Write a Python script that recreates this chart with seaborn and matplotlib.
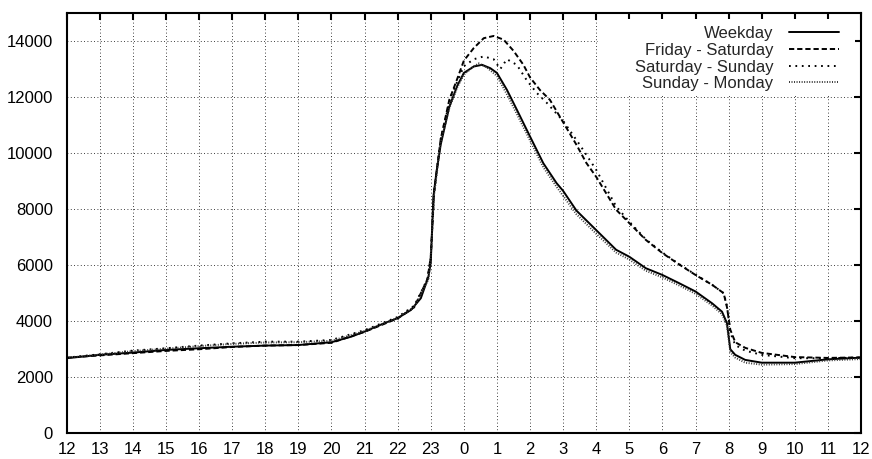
import pandas as pd
import matplotlib.pyplot as plt
import seaborn as sns
from matplotlib.patches import Rectangle

# hours as a continuous clock from 12 (noon) to 36 (noon next day)
hours_weekday = [12, 13, 14, 15, 16, 17, 18, 19, 20, 20.6, 21, 21.6, 22, 22.4, 22.7, 22.93,
                 23.0, 23.08, 23.17, 23.3, 23.56, 23.8, 24.0, 24.3, 24.55, 24.8, 25.0, 25.3,
                 25.6, 26.0, 26.4, 26.8, 27.0, 27.4, 28.0, 28.6, 29.0, 29.5, 30.0, 30.5, 31.0,
                 31.5, 31.8, 31.95, 32.05, 32.2, 32.5, 33, 34, 35, 36]
weekday = [2680, 2800, 2880, 2975, 3035, 3090, 3130, 3150, 3250, 3450, 3630, 3930, 4110, 4400,
           4820, 5590, 6100, 8450, 9300, 10300, 11650, 12400, 12860, 13090, 13150, 13030, 12860,
           12260, 11550, 10590, 9640, 8930, 8650, 7950, 7250, 6550, 6300, 5890, 5650, 5360,
           5060, 4640, 4340, 3930, 3000, 2800, 2620, 2520, 2520, 2640, 2700]

hours_fri_sat = [12, 13, 14, 15, 16, 17, 18, 19, 20, 21, 22, 22.5, 22.9, 23.0, 23.1, 23.3, 23.56,
                 23.8, 24.0, 24.3, 24.6, 24.9, 25.2, 25.5, 25.8, 26.0, 26.3, 26.6, 27.0, 27.4,
                 27.7, 28.0, 28.6, 29.0, 29.5, 30.0, 30.5, 31.0, 31.5, 31.85, 31.95, 32.05, 32.2,
                 32.5, 33, 34, 35, 36]
fri_sat = [2700, 2780, 2860, 2940, 3000, 3080, 3130, 3150, 3230, 3620, 4100, 4500, 5500, 6300,
           8600, 10500, 11900, 12650, 13300, 13750, 14100, 14180, 14050, 13650, 13150, 12700,
           12250, 11900, 11100, 10300, 9650, 9150, 7980, 7500, 6900, 6430, 6030, 5650, 5300,
           5000, 4500, 3700, 3250, 3050, 2870, 2720, 2690, 2710]

hours_sat_sun = [12, 13, 14, 15, 16, 17, 18, 19, 20, 21, 22, 22.5, 22.9, 23.0, 23.1, 23.3, 23.6,
                 24.0, 24.3, 24.6, 24.9, 25.1, 25.3, 25.6, 25.9, 26.2, 26.5, 27.0, 27.5, 28.0,
                 28.6, 29.0, 29.5, 30.0, 30.5, 31.0, 31.5, 31.85, 31.95, 32.05, 32.2, 32.5, 33,
                 34, 35, 36]
sat_sun = [2700, 2820, 2950, 3035, 3130, 3210, 3270, 3270, 3330, 3680, 4150, 4550, 5500, 6300,
           8600, 10500, 12000, 13100, 13350, 13450, 13350, 13000, 13350, 13150, 12600, 12150,
           11800, 11150, 10300, 9400, 8100, 7550, 6920, 6450, 6040, 5660, 5300, 5000, 4550,
           3600, 3150, 2950, 2800, 2680, 2680, 2700]

hours_sun_mon = [12, 13, 14, 15, 16, 17, 18, 19, 20, 21, 22, 22.5, 22.93, 23.0, 23.1, 23.3,
                 23.56, 23.8, 24.0, 24.3, 24.45, 24.7, 25.0, 25.3, 25.6, 26.0, 26.4, 26.8, 27.4,
                 28.0, 28.6, 29.0, 29.5, 30.0, 30.5, 31.0, 31.5, 31.8, 31.95, 32.05, 32.2, 32.5,
                 33, 34, 35, 36]
sun_mon = [2690, 2810, 2930, 3020, 3110, 3190, 3240, 3250, 3300, 3650, 4120, 4500, 5500, 6300,
           8500, 10400, 11600, 12350, 12800, 13100, 13200, 13050, 12750, 12100, 11400, 10450,
           9500, 8800, 7820, 7120, 6450, 6200, 5800, 5560, 5280, 4980, 4560, 4250, 3850, 2900,
           2700, 2520, 2450, 2470, 2600, 2650]

series_names = ["Weekday", "Friday - Saturday", "Saturday - Sunday", "Sunday - Monday"]
tick_hours = list(range(12, 37))
tick_labels = [str(h % 24) for h in tick_hours]
y_ticks = list(range(0, 15000, 2000))

frames = []
for name, hrs, vals in zip(series_names,
                           [hours_weekday, hours_fri_sat, hours_sat_sun, hours_sun_mon],
                           [weekday, fri_sat, sat_sun, sun_mon]):
    frames.append(pd.DataFrame({"hour": hrs, "value": vals, "series": name}))
df = pd.concat(frames, ignore_index=True)

palette = {"Weekday": "black", "Friday - Saturday": "black",
           "Saturday - Sunday": "black", "Sunday - Monday": "#333333"}
dashes = {"Weekday": "", "Friday - Saturday": (2.7, 1.5),
          "Saturday - Sunday": (0.9, 2.4), "Sunday - Monday": (0.5, 0.8)}

sns.set_style("white")
plt.rcParams['font.family'] = ['Liberation Sans', 'DejaVu Sans']

fig, ax = plt.subplots(figsize=(8.72, 4.59), dpi=100)
fig.subplots_adjust(left=0.0765, right=0.9874, bottom=0.056, top=0.9717)

sns.lineplot(data=df, x="hour", y="value", hue="series", style="series",
             hue_order=series_names, style_order=series_names,
             palette=palette, dashes=dashes, lw=1.4, estimator=None, ax=ax)

ax.set_xlim(12, 36)
ax.set_ylim(0, 15000)
ax.set_xticks(tick_hours)
ax.set_xticklabels(tick_labels)
ax.set_yticks(y_ticks)
ax.set_xlabel("")
ax.set_ylabel("")
ax.grid(True, color="black", linestyle=(0, (1, 3)), linewidth=0.6)
ax.tick_params(direction="in", length=5, width=1.5, top=True, right=True,
               labelsize=12, colors="black")
ax.tick_params(axis="x", pad=6)
ax.tick_params(axis="y", pad=10)
for s in ax.spines.values():
    s.set_linewidth(1.5)
    s.set_color("black")

# blank key area (grid hidden behind the legend, like gnuplot)
ax.add_patch(Rectangle((0.669, 0.803), 0.3235, 0.183, transform=ax.transAxes,
                       facecolor="white", edgecolor="none", zorder=2.6))

sns.move_legend(ax, "upper right", bbox_to_anchor=(0.9886, 1.0), markerfirst=False,
                frameon=False, title=None, handlelength=3.0, labelspacing=0.1,
                fontsize=12, handletextpad=0.9, borderpad=0.3)

plt.savefig("out.png", dpi=100)
